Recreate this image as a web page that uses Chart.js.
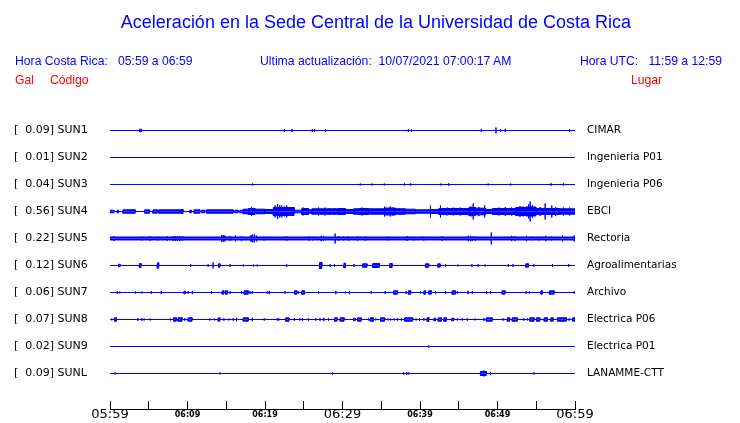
<!DOCTYPE html>
<html><head><meta charset="utf-8">
<script src="https://cdn.jsdelivr.net/npm/chart.js@4/dist/chart.umd.min.js"></script>
<style>
html,body{margin:0;padding:0;background:#fff;}
#wrap{position:relative;width:740px;height:423px;overflow:hidden;background:#fff;}
canvas{position:absolute;left:0;top:0;}
.t{position:absolute;white-space:pre;font-family:"Liberation Sans",Arial,sans-serif;line-height:1;}
.b{color:#0000ff;font-size:12.2px;}
.r{color:#ff0000;font-size:12.2px;}
</style></head><body>
<div id="wrap">
<canvas id="c" width="740" height="423"></canvas>
<div class="t" style="left:0;width:752px;text-align:center;top:13px;font-size:18px;color:#0000ff">Aceleración en la Sede Central de la Universidad de Costa Rica</div>
<div class="t b" style="left:15px;top:55px">Hora Costa Rica:   05:59 a 06:59</div>
<div class="t b" style="left:260px;top:55px">Ultima actualización:  10/07/2021 07:00:17 AM</div>
<div class="t b" style="left:580px;top:55px">Hora UTC:   11:59 a 12:59</div>
<div class="t r" style="left:15px;top:74px">Gal</div>
<div class="t r" style="left:50px;top:74px">Código</div>
<div class="t r" style="left:631px;top:74px">Lugar</div>
</div>
<script>
// ---- data ----
const STATIONS = ['SUN1','SUN2','SUN3','SUN4','SUN5','SUN6','SUN7','SUN8','SUN9','SUNL'];
const PEAK_GAL = [0.09,0.01,0.04,0.56,0.22,0.12,0.06,0.07,0.02,0.09];
const PLACES = ['CIMAR','Ingenieria P01','Ingenieria P06','EBCI','Rectoria','Agroalimentarias','Archivo','Electrica P06','Electrica P01','LANAMME-CTT'];
const TIME_TICKS = ['05:59','06:09','06:19','06:29','06:39','06:49','06:59'];
const MINUTES = 60;
const COUNTS_PER_ROW = 27;   // trace amplitude units per station row

// bursts: [startMinute, endMinute, halfAmplitude]; spikes: [minute, halfAmplitude]
const SUN1_BANDS = [[3.8,4.05,1.3]];
const SUN1_SPIKES = [[22.5,1.5],[23.5,1.5],[26.1,1.5],[26.4,1.5],[27.8,1.5],[38.5,1.5],[38.9,1],[47.9,1.3],[49.8,3],[50.4,1.5],[51.0,1.5],[59.3,1.5]];
const SUN2_BANDS = [];
const SUN2_SPIKES = [];
const SUN3_BANDS = [];
const SUN3_SPIKES = [[18.4,1],[32.3,1],[33.8,1],[35.4,1],[38.0,1],[38.8,1.3],[42.7,1],[43.7,1.3],[48.8,1],[51.7,1],[56.9,1.3],[58.5,1.3]];
const SUN4_BANDS = [[0,0.5,1.3],[0.93,1.1,1.3],[1.66,3.26,1.7],[4.47,5.11,1.7],[5.54,6.1,1.7],[6.28,8.99,1.7],[9.12,9.43,2],[10.29,10.5,1.3],[10.85,11.58,1.7],[11.8,12.23,1.3],[12.45,15.9,1.7],[16.11,16.54,1.3],[16.76,17.19,1.3],[17.2,17.84,2.3],[17.85,18.7,3],[18.71,19.99,2.3],[20.0,21.07,2],[21.08,23.75,4],[23.76,24.74,1.3],[24.75,25.6,3],[25.61,26.05,1.7],[26.06,29.49,2.7],[29.5,30.35,3],[30.36,31.43,2],[31.44,32.08,2.7],[32.09,33.37,3],[33.38,35.53,2.7],[35.54,36.82,3.5],[36.83,38.11,2.7],[38.12,39.41,2.3],[39.42,41.35,1.7],[41.36,42.43,2],[42.44,46.31,3],[46.32,47.17,4],[47.18,48.47,3.3],[48.48,49.33,2],[49.34,52.35,3],[52.36,53.65,4],[53.66,54.94,4.5],[54.95,57.96,3],[57.97,60,2.7]];
const SUN4_SPIKES = [[2.95,2.3],[9.3,2.3],[18.0,3.5],[18.27,4.5],[21.3,6],[21.63,7.5],[21.9,6],[22.15,6],[22.5,5],[22.8,6],[23.2,4.5],[24.9,4],[25.3,3.5],[26.9,4],[27.76,4],[28.3,3.5],[29.0,3.5],[30.0,3.5],[32.5,4],[33.0,3.5],[35.44,5],[36.17,5],[36.5,4],[37.4,3.5],[41.35,6],[42.64,6],[43.5,4],[44.3,4],[45.2,4],[45.8,3.5],[46.6,5],[46.87,8],[47.6,4.5],[48.34,6],[50.2,4],[51.0,4.5],[51.8,4],[52.9,5.5],[53.3,5],[54.0,7],[54.21,10],[54.5,6.5],[55.5,4.5],[56.15,8],[57.0,6],[57.5,4.5],[58.5,4],[59.3,4]];
const SUN5_BANDS = [[0,60,1.5]];
const SUN5_SPIKES = [[0.5,2.5],[4.12,2],[5.2,2.5],[6.19,2],[7.4,2.3],[8.13,2.5],[8.43,2.5],[8.69,2.3],[8.99,2.5],[9.3,2.3],[14.39,3.5],[14.6,3.5],[14.82,3],[15.47,2.5],[16.2,3],[16.98,2.5],[18.19,3.5],[18.4,4],[18.62,4],[18.92,3],[19.87,2],[22.8,2.3],[25.69,2],[26.12,2],[27.24,2.7],[27.55,2.5],[29.05,5],[29.49,2.3],[30.13,2],[30.78,2.3],[31.95,2.3],[32.94,2.3],[35.87,2],[38.33,2.5],[39.19,2],[40.49,2],[42.86,2.5],[46.22,2.7],[46.52,2.7],[46.74,2.5],[47.17,2.3],[49.2,6],[51.83,2.7],[52.26,2.5],[53.73,2.7],[54.51,2],[55.37,2],[56.23,2.7],[56.97,2],[58.39,3.5],[59.9,3]];
const SUN6_BANDS = [[1.1,1.3,1.3],[3.8,4.0,2],[6.1,6.28,2.7],[14.0,14.2,1.7],[27.03,27.33,3],[30.18,30.39,2.3],[32.6,33.15,1.7],[33.9,34.75,2],[36.1,36.4,2],[40.7,41.13,1.7],[42.3,42.6,1.7],[53.65,54.0,1.7]];
const SUN6_SPIKES = [[10.4,1.3],[12.66,1.3],[13.31,3],[15.5,1.3],[17.2,1],[18.5,1],[19.0,1],[22.8,1.3],[28.4,1.3],[28.97,1.3],[31.5,1.3],[43.3,1.3],[44.9,1],[46.7,1.3],[47.5,1.3],[48.4,1],[51.4,1.3],[52.0,1.3],[54.7,1.3],[57.1,1.3],[59.2,1.3]];
const SUN7_BANDS = [[9.55,9.73,1.3],[14.47,14.69,1.7],[14.9,15.16,1.7],[17.3,17.84,1.7],[23.8,24.1,1.7],[24.74,25.1,1.7],[36.6,37.1,1.7],[38.5,38.8,1.7],[40.5,40.7,1.7],[41.13,41.48,1.7],[44.15,44.6,1.7],[50.6,50.97,1.7],[55.6,55.8,1.7],[56.7,57.3,1.7]];
const SUN7_SPIKES = [[0.93,1.3],[1.27,1],[3.3,1],[4.12,1],[5.33,1.3],[6.62,1.7],[10.07,1.3],[10.63,1.7],[13.1,1.3],[15.5,1.3],[16.98,1.3],[18.05,1.3],[18.36,1.3],[20.3,1.3],[20.56,1.7],[22.58,1.3],[24.3,1.3],[26.9,1],[29.14,1.7],[30.4,1],[30.9,1.7],[33.7,1.3],[35.5,1.3],[38.2,1.3],[40.06,1],[42.0,1.7],[43.3,1.3],[44.85,1],[46.2,1.7],[46.74,1.3],[48.6,1.3],[49.1,1.3],[53.7,1.3],[54.1,1],[59.9,1.3]];
const SUN8_BANDS = [[0.58,0.84,1.7],[8.2,8.56,1.7],[8.78,9.3,1.7],[10.07,10.59,1.7],[13.95,14.17,1.7],[17.19,17.84,1.7],[22.67,23.1,1.7],[28.97,29.3,1.7],[29.7,30.2,1.7],[31.43,31.64,1.3],[31.95,32.42,1.7],[33.58,34.0,1.7],[34.9,35.44,1.7],[38.03,39.06,1.7],[40.9,41.13,1.7],[41.8,42.0,1.3],[42.35,42.77,1.7],[43.07,43.4,1.7],[44.07,44.37,1.3],[48.55,49.33,1.7],[51.27,51.57,1.7],[51.9,52.57,1.7],[54.16,54.72,1.7],[55.03,55.46,1.7],[56.02,56.45,1.7],[56.88,57.18,1.7],[57.74,58.9,1.7],[59.7,60,1.7]];
const SUN8_SPIKES = [[0.24,1],[3.6,1.3],[4.1,1.3],[4.4,1],[5.2,1],[7.8,1],[9.64,1.3],[12.9,1],[13.5,1],[14.69,1.3],[15.33,1],[15.9,1.3],[16.33,1.7],[18.36,1.7],[19.9,1.3],[21.6,1.3],[21.8,1],[23.79,1.3],[24.5,1],[24.83,1.3],[25.6,1.3],[26.55,1.3],[27.1,1.3],[27.6,1.7],[28.2,1.3],[33.37,1],[34.3,1],[35.87,1],[36.2,1],[36.65,1],[37.08,1.3],[37.6,1.3],[39.5,1],[39.93,1.3],[40.5,1.3],[41.13,2.5],[44.8,1],[45.45,1.3],[46.1,1.3],[47.1,1],[48.25,1.3],[50.7,1.3],[53.4,1.3],[53.86,1],[59.25,1.3]];
const SUN9_BANDS = [];
const SUN9_SPIKES = [[41.13,1]];
const SUNL_BANDS = [[47.8,48.55,2]];
const SUNL_SPIKES = [[0.67,1],[14.2,1],[28.7,1],[37.9,1.3],[38.3,1.3],[38.55,1],[48.25,3],[49.1,1.7],[54.7,1]];

const TRACE_BANDS = [SUN1_BANDS,SUN2_BANDS,SUN3_BANDS,SUN4_BANDS,SUN5_BANDS,SUN6_BANDS,SUN7_BANDS,SUN8_BANDS,SUN9_BANDS,SUNL_BANDS];
const TRACE_SPIKES = [SUN1_SPIKES,SUN2_SPIKES,SUN3_SPIKES,SUN4_SPIKES,SUN5_SPIKES,SUN6_SPIKES,SUN7_SPIKES,SUN8_SPIKES,SUN9_SPIKES,SUNL_SPIKES];

// ---- build envelope polylines (minute, amplitude) from the bursts ----
function envelope(bands, spikes) {
  const groups = [];
  const inside = new Set();
  bands.forEach(([t0, t1, a]) => {
    const inner = [];
    spikes.forEach((s, k) => {
      if (!inside.has(k) && s[0] >= t0 && s[0] <= t1) {
        inside.add(k);
        inner.push(s);
      }
    });
    inner.sort((p, q) => p[0] - q[0]);
    const pts = [[t0, 0], [t0, a]];
    inner.forEach(([t, h]) => pts.push([t, a], [t, Math.max(a, h)], [t, a]));
    pts.push([t1, a], [t1, 0]);
    groups.push({t: t0, pts});
  });
  spikes.forEach(([t, h], k) => {
    if (!inside.has(k)) groups.push({t, pts: [[t, 0], [t, h], [t, 0]]});
  });
  groups.sort((p, q) => p.t - q.t);
  const out = [[0, 0]];
  groups.forEach(g => out.push(...g.pts));
  out.push([MINUTES, 0]);
  return out;
}

const BLUE = '#0000ff';
const datasets = [];
STATIONS.forEach((name, i) => {
  const env = envelope(TRACE_BANDS[i], TRACE_SPIKES[i]);
  [-1, 1].forEach(sign => {
    datasets.push({
      label: name + (sign < 0 ? ' +' : ' -'),
      data: env.map(([t, h]) => ({x: t, y: i + sign * h / COUNTS_PER_ROW})),
      borderColor: BLUE,
      backgroundColor: BLUE,
      borderWidth: 1,
      pointRadius: 0,
      tension: 0,
      fill: {value: i}
    });
  });
});

const ROWS = STATIONS.map((_, i) => i);
const leftLabels = STATIONS.map((s, i) => '[  ' + PEAK_GAL[i].toFixed(2) + '] ' + s);
const ROW_MIN = -0.537, ROW_MAX = 10.315;
const noPad = s => { s.paddingTop = 0; s.paddingBottom = 0; };

new Chart(document.getElementById('c'), {
  type: 'line',
  data: {datasets},
  options: {
    responsive: false,
    animation: false,
    events: [],
    devicePixelRatio: 1,
    layout: {padding: {top: 116, left: 14, right: 0, bottom: 0}},
    plugins: {legend: {display: false}, tooltip: {enabled: false}, title: {display: false}},
    scales: {
      x: {
        type: 'linear', min: 0, max: MINUTES, offset: false,
        grid: {display: true, drawOnChartArea: false, drawTicks: true, tickLength: -8, color: '#000', tickColor: '#000', lineWidth: 1},
        border: {display: true, color: '#000', width: 1},
        afterFit: s => { s.height = 14; s.paddingLeft = 0; s.paddingRight = 0; },
        ticks: {
          stepSize: 5, autoSkip: false, maxRotation: 0, padding: 6, color: '#000',
          callback: v => (v % 10 === 0 ? TIME_TICKS[v / 10] : ''),
          font: ctx => (ctx.tick && ctx.tick.value % 30 === 0)
            ? {family: 'DejaVu Sans', size: 13, lineHeight: '16px'}
            : {family: 'DejaVu Sans', size: 8, weight: 'bold', lineHeight: '16px'}
        }
      },
      y: {
        type: 'linear', position: 'left', reverse: true, min: ROW_MIN, max: ROW_MAX,
        grid: {display: false, drawTicks: false}, border: {display: false},
        afterBuildTicks: s => { s.ticks = ROWS.map(v => ({value: v})); },
        afterFit: s => { s.width = 96; noPad(s); },
        ticks: {autoSkip: false, crossAlign: 'far', padding: 0, color: '#000',
          font: {family: 'DejaVu Sans', size: 11},
          callback: (v, idx) => leftLabels[idx]}
      },
      y2: {
        type: 'linear', position: 'right', reverse: true, min: ROW_MIN, max: ROW_MAX,
        grid: {display: false, drawTicks: false}, border: {display: false},
        afterBuildTicks: s => { s.ticks = ROWS.map(v => ({value: v})); },
        afterFit: s => { s.width = 165; noPad(s); },
        ticks: {autoSkip: false, padding: 12, color: '#000',
          font: {family: 'DejaVu Sans', size: 10.5},
          callback: (v, idx) => PLACES[idx]}
      }
    }
  }
});
</script>
</body></html>
